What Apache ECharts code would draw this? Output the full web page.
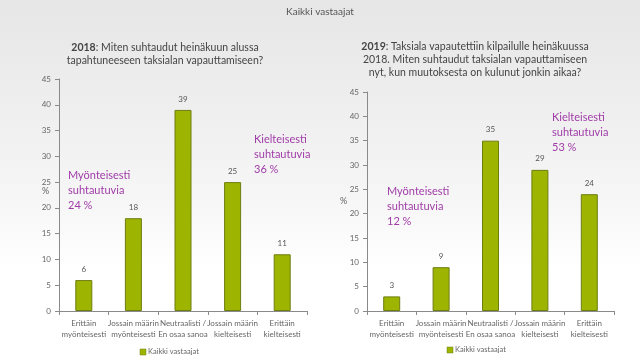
<!DOCTYPE html>
<html><head><meta charset="utf-8">
<script src="https://cdn.jsdelivr.net/npm/echarts@6/dist/echarts.min.js"></script>
<style>html,body{margin:0;padding:0;}#c{width:640px;height:360px;}</style>
</head><body><div id="c"></div>
<script>
const categories = ['Erittäin\nmyönteisesti','Jossain määrin\nmyönteisesti','Neutraalisti /\nEn osaa sanoa','Jossain määrin\nkielteisesti','Erittäin\nkielteisesti'];
const values2018 = [6, 18, 39, 25, 11];
const values2019 = [3, 9, 35, 29, 24];
const yTicks = [0, 5, 10, 15, 20, 25, 30, 35, 40, 45];
const seriesName = 'Kaikki vastaajat';

const chart = echarts.init(document.getElementById('c'), null, {renderer:'canvas'});
const axisCol = '#8a8a8a';
const lblCol = '#666';
const purple = '#a03ca8';
const font = 'Lato, Liberation Sans, sans-serif';
function xAx(gi){return {type:'category',gridIndex:gi,data:categories,
  axisLine:{lineStyle:{color:axisCol}},axisTick:{show:true,alignWithLabel:false,length:4,lineStyle:{color:axisCol}},
  axisLabel:{color:lblCol,fontSize:8,fontFamily:font,lineHeight:11,margin:7,interval:0}};}
function yAx(gi){return {type:'value',gridIndex:gi,min:yTicks[0],max:yTicks[yTicks.length-1],interval:5,
  axisLine:{show:true,lineStyle:{color:axisCol}},axisTick:{show:true,length:4,lineStyle:{color:axisCol}},
  splitLine:{show:false},axisLabel:{color:lblCol,fontSize:8,fontFamily:font,margin:8}};}
function ser(i,data){return {name:seriesName,type:'bar',xAxisIndex:i,yAxisIndex:i,data:data,barWidth:17,
  itemStyle:{color:'#9db500',borderColor:'#6e7d10',borderWidth:1},
  label:{show:true,position:'top',color:'#555',fontSize:8,fontFamily:font,distance:7}};}
function txt(x,y,t){return {type:'text',x:x,y:y,style:{text:t,fill:purple,font:'11px '+font,lineHeight:15}};}
function ctext(x,y,t){return {type:'text',x:x,y:y,style:{text:t,textAlign:'center',
  rich:{b:{fill:'#444',font:'bold 10.5px '+font},n:{fill:'#444',font:'10.5px '+font}},fill:'#444',font:'10.5px '+font,lineHeight:13}};}
chart.setOption({
  backgroundColor:{type:'linear',x:0,y:0,x2:0,y2:1,colorStops:[{offset:0,color:'#e6e6e6'},{offset:0.55,color:'#f6f6f6'},{offset:0.75,color:'#ffffff'},{offset:1,color:'#ffffff'}]},
  animation:false,
  grid:[{left:59,right:333,top:79,bottom:49},{left:367,right:26,top:92,bottom:49}],
  xAxis:[xAx(0),xAx(1)],
  yAxis:[yAx(0),yAx(1)],
  series:[ser(0,values2018),ser(1,values2019)],
  graphic:[
    {type:'text',x:320,y:7,style:{text:'Kaikki vastaajat',textAlign:'center',fill:'#555',font:'10px '+font}},
    ctext(165,41,'{b|2018}{n|: Miten suhtaudut heinäkuun alussa}'),
    ctext(165,54,'{n|tapahtuneeseen taksialan vapauttamiseen?}'),
    ctext(475,40,'{b|2019}{n|: Taksiala vapautettiin kilpailulle heinäkuussa}'),
    ctext(475,53,'{n|2018. Miten suhtaudut taksialan vapauttamiseen}'),
    ctext(475,66,'{n|nyt, kun muutoksesta on kulunut jonkin aikaa?}'),
    {type:'text',x:42,y:187,style:{text:'%',fill:lblCol,font:'9px '+font}},
    {type:'text',x:340,y:197,style:{text:'%',fill:lblCol,font:'9px '+font}},
    txt(68,168,'Myönteisesti\nsuhtautuvia\n24 %'),
    txt(254,132,'Kielteisesti\nsuhtautuvia\n36 %'),
    txt(387,184,'Myönteisesti\nsuhtautuvia\n12 %'),
    txt(552,110,'Kielteisesti\nsuhtautuvia\n53 %'),
    {type:'rect',x:140,y:349,shape:{width:6,height:6},style:{fill:'#9db500',stroke:'#6e7d10',lineWidth:0.5}},
    {type:'text',x:148,y:348,style:{text:seriesName,fill:lblCol,font:'7.5px '+font}},
    {type:'rect',x:447,y:347,shape:{width:6,height:6},style:{fill:'#9db500',stroke:'#6e7d10',lineWidth:0.5}},
    {type:'text',x:455,y:346,style:{text:seriesName,fill:lblCol,font:'7.5px '+font}}
  ]
});
</script></body></html>
